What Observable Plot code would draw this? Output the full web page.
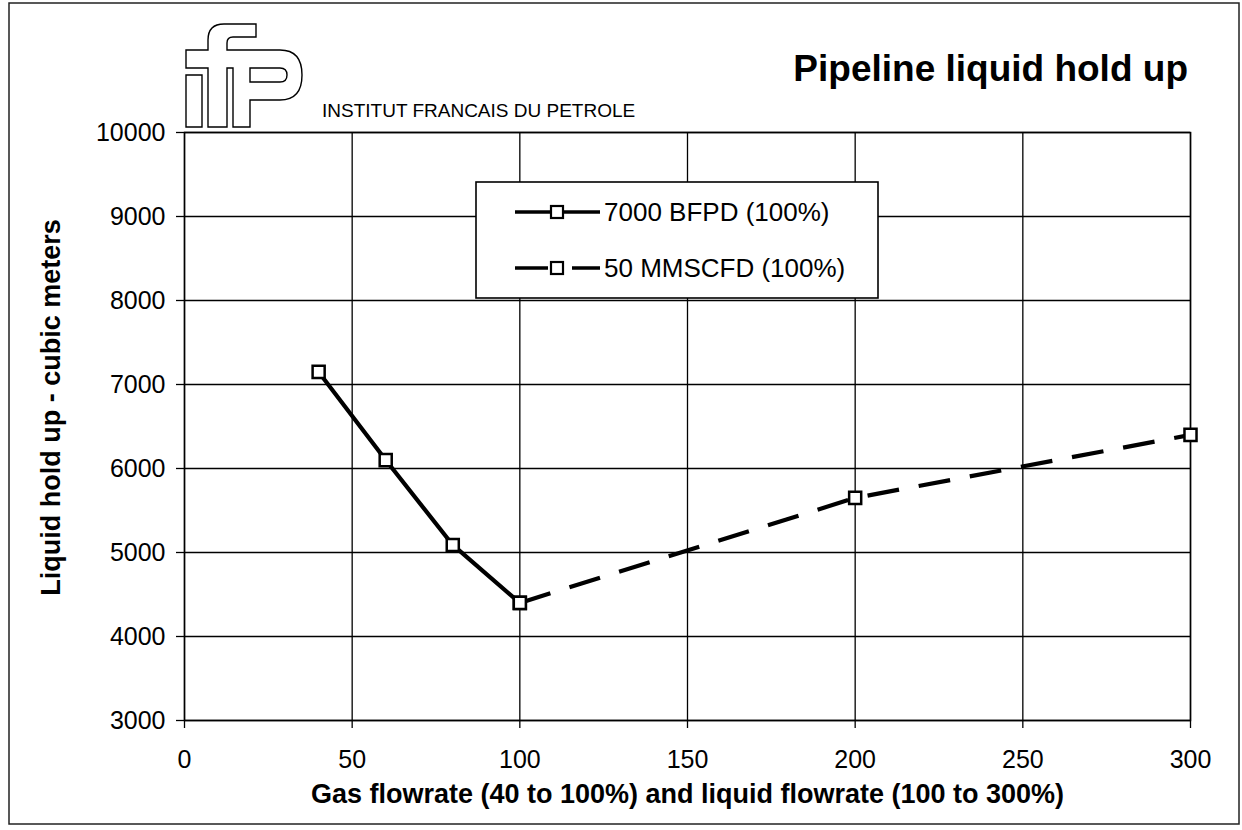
<!DOCTYPE html>
<html>
<head>
<meta charset="utf-8">
<script src="https://cdn.jsdelivr.net/npm/d3@7"></script>
<script src="https://cdn.jsdelivr.net/npm/@observablehq/plot@0.6"></script>
<style>
  html, body { margin: 0; padding: 0; background: #fff; }
  #chart svg { display: block; }
</style>
</head>
<body>
<div id="chart"></div>
<script>
// ---- data ----
const gasFlow = [40, 60, 80, 100];             // gas flowrate %
const holdupGas = [7150, 6100, 5090, 4400];    // m3, liquid at 7000 BFPD (100%)
const liquidFlow = [100, 200, 300];            // liquid flowrate %
const holdupLiquid = [4400, 5650, 6400];       // m3, gas at 50 MMSCFD (100%)
const seriesNames = ["7000 BFPD (100%)", "50 MMSCFD (100%)"];
const xTicks = [0, 50, 100, 150, 200, 250, 300];
const yTicks = [3000, 4000, 5000, 6000, 7000, 8000, 9000, 10000];
const titleText = "Pipeline liquid hold up";
const orgText = "INSTITUT FRANCAIS DU PETROLE";
const xLabel = "Gas flowrate (40 to 100%) and liquid flowrate (100 to 300%)";
const yLabel = "Liquid hold up - cubic meters";

const s1 = gasFlow.map((x, i) => ({x, y: holdupGas[i], s: seriesNames[0]}));
const s2 = liquidFlow.map((x, i) => ({x, y: holdupLiquid[i], s: seriesNames[1]}));

const FONT = "'Liberation Sans', Arial, Helvetica, sans-serif";

const chart = Plot.plot({
  width: 1242,
  height: 830,
  marginTop: 132,
  marginBottom: 110,
  marginLeft: 184,
  marginRight: 52,
  style: {fontFamily: FONT, fontSize: "25px", color: "black", background: "white"},
  x: {domain: [0, 300]},
  y: {domain: [3000, 10000]},
  marks: [
    Plot.gridX(xTicks, {stroke: "black", strokeOpacity: 1, strokeWidth: 1.3}),
    Plot.gridY(yTicks, {stroke: "black", strokeOpacity: 1, strokeWidth: 1.3}),
    Plot.frame({stroke: "black", strokeWidth: 1.5}),
    Plot.axisX(xTicks, {tickSize: 8, tickPadding: 22, strokeWidth: 1.3, label: null, fontSize: 25, tickFormat: d3.format("d")}),
    Plot.axisY(yTicks, {tickSize: 8, tickPadding: 11, strokeWidth: 1.3, label: null, fontSize: 25, tickFormat: d3.format("d")}),
    Plot.text([xLabel], {frameAnchor: "bottom", dy: 82, lineAnchor: "bottom", textAnchor: "middle", fontWeight: "bold", fontSize: 27}),
    Plot.text([yLabel], {frameAnchor: "left", dx: -133, dy: -19, rotate: -90, textAnchor: "middle", lineAnchor: "middle", fontWeight: "bold", fontSize: 27}),
    Plot.line(s1, {x: "x", y: "y", stroke: "black", strokeWidth: 4.2}),
    Plot.line(s2, {x: "x", y: "y", stroke: "black", strokeWidth: 4.2, strokeDasharray: "32,20", strokeLinecap: "butt"}),
    Plot.dot(s1.concat(s2), {x: "x", y: "y", symbol: "square", r: 6.8, fill: "white", stroke: "black", strokeWidth: 2.5})
  ]
});
document.getElementById("chart").appendChild(chart);

const svg = d3.select(chart);

// outer border
svg.append("rect").attr("x", 9).attr("y", 3).attr("width", 1230).attr("height", 821)
  .attr("fill", "none").attr("stroke", "#222").attr("stroke-width", 1.5);

// title
svg.append("text").attr("x", 1188).attr("y", 81).attr("text-anchor", "end")
  .attr("font-family", FONT).attr("font-size", 37).attr("font-weight", "bold").text(titleText);

// organisation name
svg.append("text").attr("x", 322).attr("y", 117).attr("text-anchor", "start")
  .attr("font-family", FONT).attr("font-size", 19).text(orgText);

// logo (outline letters i f p)
const logo = svg.append("g").attr("fill", "white").attr("stroke", "black").attr("stroke-width", 1.4);
logo.append("path").attr("d", "M186,75 H202 V127 H186 Z");
logo.append("path").attr("d", "M186,68 V50 H208 V40 Q208,24 224,24 H256 V37 H233 Q227,37 227,43 V50 H280 Q302,50 302,75 Q302,100 280,100 H250 V127 H233 V68 H227 V127 H208 V68 Z");
logo.append("path").attr("d", "M250,68 H280 Q287,68 287,75 Q287,82 280,82 H250 Z");

// legend
const lg = svg.append("g");
lg.append("rect").attr("x", 476).attr("y", 182).attr("width", 402).attr("height", 116)
  .attr("fill", "white").attr("stroke", "black").attr("stroke-width", 1.6);
const rows = [{y: 212, dash: null}, {y: 268, dash: "33,24,40"}];
rows.forEach((r, i) => {
  lg.append("line").attr("x1", 515).attr("x2", 600).attr("y1", r.y).attr("y2", r.y)
    .attr("stroke", "black").attr("stroke-width", 3.5).attr("stroke-dasharray", r.dash);
  lg.append("rect").attr("x", 551).attr("y", r.y - 6).attr("width", 12).attr("height", 12)
    .attr("fill", "white").attr("stroke", "black").attr("stroke-width", 2.2);
  lg.append("text").attr("x", 604).attr("y", r.y).attr("dy", "0.35em").attr("text-anchor", "start")
    .attr("font-family", FONT).attr("font-size", 26).text(seriesNames[i]);
});
</script>
</body>
</html>
